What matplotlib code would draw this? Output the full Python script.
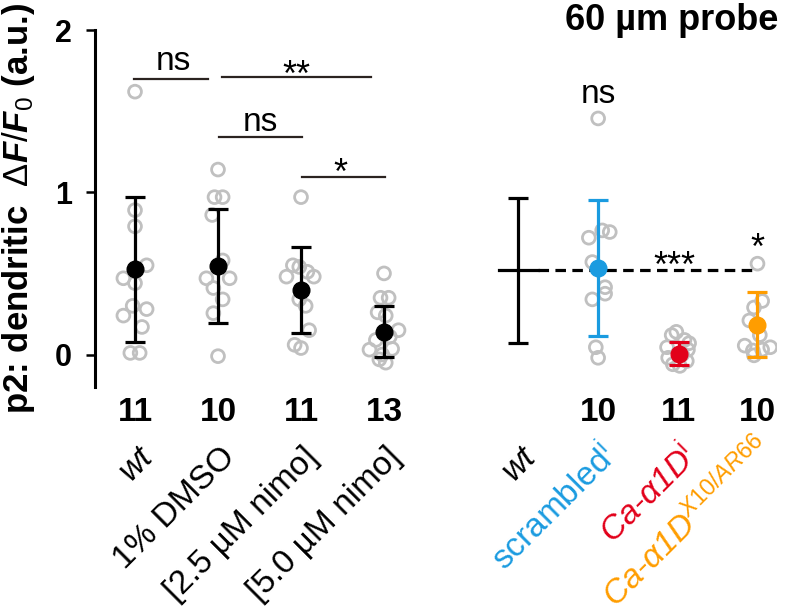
import numpy as np
import matplotlib
matplotlib.use('Agg')
from matplotlib import pyplot as plt

plt.rcParams['font.family'] = ['Liberation Sans', 'DejaVu Sans']
plt.rcParams['mathtext.fontset'] = 'custom'
plt.rcParams['mathtext.rm'] = 'Liberation Sans'
plt.rcParams['mathtext.it'] = 'Liberation Sans:italic'
plt.rcParams['mathtext.bf'] = 'Liberation Sans:bold'
plt.rcParams['mathtext.bfit'] = 'Liberation Sans:italic:bold'

# ---- left block: nimodipine treatment
left_labels = ['wt', '1% DMSO', '[2.5 µM nimo]', '[5.0 µM nimo]']
left_n = [11, 10, 11, 13]
left_mean = [0.525, 0.545, 0.395, 0.14]
left_sd = [0.447, 0.35, 0.265, 0.158]

wt_pts = [1.62, 0.89, 0.79, 0.55, 0.47, 0.44, 0.30, 0.28, 0.24, 0.17, 0.01, 0.01]
dmso_pts = [1.14, 0.97, 0.97, 0.86, 0.58, 0.47, 0.47, 0.41, 0.34, 0.255, -0.01]
nimo25_pts = [0.97, 0.55, 0.54, 0.51, 0.48, 0.48, 0.34, 0.30, 0.15, 0.06, 0.04]
nimo50_pts = [0.50, 0.35, 0.35, 0.26, 0.24, 0.15, 0.11, 0.09, 0.03, 0.035, 0.0, -0.03, -0.05]

# ---- right block: RNAi / mutant
right_labels = ['wt', 'scrambled$^{\\mathrm{i}}$', 'Ca-α1D$^{\\mathrm{i}}$', 'Ca-α1D$^{\\mathit{X10/AR66}}$']
right_n = [None, 10, 11, 10]
right_mean = [0.52, 0.535, 0.005, 0.183]
right_sd = [0.447, 0.42, 0.07, 0.20]

scr_pts = [1.455, 0.765, 0.755, 0.72, 0.57, 0.415, 0.375, 0.34, 0.045, -0.02]
rnai_pts = [0.14, 0.12, 0.09, 0.07, 0.045, 0.03, 0.0, -0.02, -0.04, -0.06, -0.07]
mut_pts = [0.56, 0.33, 0.29, 0.21, 0.12, 0.055, 0.045, 0.03, 0.025, -0.005]

# horizontal jitter of the grey circles (in circle widths)
wt_jit = [0, 0, 0, 1, -1, 0, -0.2, 1, -1, 0.6, -0.4, 0.4]
dmso_jit = [0, -0.3, 0.4, -0.5, 0.4, -1, 1, -0.4, 0.4, -0.4, 0]
nimo25_jit = [0, -0.7, -0.15, 0.55, -1.25, 1.1, -0.15, 0.4, 0.7, -0.55, 0]
nimo50_jit = [0, -0.3, 0.4, -0.55, 0.15, 1.25, 0.5, -0.7, -1.25, 0.7, -0.15, -0.4, 0.15]
scr_jit = [0, 0.35, 1.0, -0.8, -0.5, 0.6, 0.6, -0.5, -0.2, 0]
rnai_jit = [-0.2, -0.6, 0.5, 0.9, -1.0, 0.8, 0.3, -0.9, 0.7, -0.5, 0.1]
mut_jit = [0, 0.4, -0.3, -0.7, 0.2, -1.1, 1.1, 0.4, -0.4, -0.3]

left_x = [0, 1, 2, 3]
right_x = [4.62, 5.58, 6.55, 7.5]
right_colors = ['black', '#1a9be0', '#e2001a', '#ff9d00']
grey = '#c0c0c0'
jit_unit = 0.14

fig = plt.figure(figsize=(7.85, 6.14), dpi=100)
ax = fig.add_axes([95 / 785, 227 / 614, 682 / 785, 357 / 614])
ax.set_xlim(-0.482, 7.735)
ax.set_ylim(-0.2, 2)

# grey individual points
groups = [(left_x[0], wt_pts, wt_jit), (left_x[1], dmso_pts, dmso_jit),
          (left_x[2], nimo25_pts, nimo25_jit), (left_x[3], nimo50_pts, nimo50_jit),
          (right_x[1], scr_pts, scr_jit), (right_x[2], rnai_pts, rnai_jit),
          (right_x[3], mut_pts, mut_jit)]
for x0, pts, jit in groups:
    xs = x0 + np.array(jit) * jit_unit
    ax.scatter(xs, pts, s=85, facecolors='none', edgecolors=grey, linewidths=2.0, zorder=1)

# means + sd, left
ax.errorbar(left_x, left_mean, yerr=left_sd, fmt='o', color='black', ms=12,
            elinewidth=2.3, capsize=7, capthick=2.3, zorder=3)

# right: wt reference as a cross + dashed line
ax.errorbar(right_x[0], right_mean[0], yerr=right_sd[0], fmt='none', ecolor='black',
            elinewidth=2.3, capsize=7, capthick=2.3, zorder=3)
ax.plot([right_x[0] - 0.24, right_x[0] + 0.24], [right_mean[0]] * 2, color='black', lw=2.3, zorder=3)
ax.plot([right_x[0] + 0.24, right_x[3]], [right_mean[0]] * 2, color='black', lw=2.3,
        linestyle=(0, (3.3, 2.0)), zorder=2)
for i in range(1, 4):
    ax.errorbar(right_x[i], right_mean[i], yerr=right_sd[i], fmt='o', color=right_colors[i],
                ms=12, elinewidth=2.3, capsize=7, capthick=2.3, zorder=3)

# significance bars
sig_col = '#2b2320'
ax.plot([-0.01, 0.88], [1.695, 1.695], color=sig_col, lw=1.6)
ax.plot([1.05, 2.84], [1.71, 1.71], color=sig_col, lw=1.6)
ax.plot([1.01, 2.01], [1.34, 1.34], color=sig_col, lw=1.6)
ax.plot([2.01, 3.01], [1.095, 1.095], color=sig_col, lw=1.6)
ax.text(0.46, 1.753, 'ns', fontsize=24, ha='center', va='baseline')
ax.text(1.94, 1.655, '**', fontsize=26, ha='center', va='baseline')
ax.text(1.51, 1.377, 'ns', fontsize=24, ha='center', va='baseline')
ax.text(2.48, 1.05, '*', fontsize=26, ha='center', va='baseline')
ax.text(right_x[1], 1.55, 'ns', fontsize=24, ha='center', va='baseline')
ax.text(6.5, 0.48, '***', fontsize=26, ha='center', va='baseline')
ax.text(right_x[3], 0.59, '*', fontsize=26, ha='center', va='baseline')

ax.text(6.47, 2.0, '60 µm probe', fontsize=26, fontweight='bold', ha='center', va='baseline')

# n counts
for x, n in zip(left_x + right_x, left_n + right_n):
    if n is not None:
        ax.text(x, -0.407, str(n), fontsize=24, fontweight='bold', ha='center', va='baseline')

# rotated group labels
for x, lab in zip(left_x, left_labels):
    st = 'italic' if lab == 'wt' else 'normal'
    ax.text(x + 0.15, -0.605, lab, fontsize=24, style=st, rotation=45, rotation_mode='anchor',
            ha='right', va='center')
right_styles = ['italic', 'normal', 'italic', 'italic']
right_dx = [0.15, 0.15, 0.15, 0.1]
right_y = [-0.605, -0.595, -0.595, -0.545]
for x, lab, c, st, dx, y in zip(right_x, right_labels, right_colors, right_styles, right_dx, right_y):
    ax.text(x + dx, y, lab, fontsize=24, style=st, color=c, rotation=45,
            rotation_mode='anchor', ha='right', va='center')

# axes styling
for sp in ['top', 'right', 'bottom']:
    ax.spines[sp].set_visible(False)
ax.spines['left'].set_linewidth(2.2)
ax.set_xticks([])
ax.set_yticks([0, 1, 2])
ax.set_yticklabels(['0', '1', '2'], fontsize=22, fontweight='bold')
ax.tick_params(axis='y', length=6.5, width=1.8, pad=10)
ax.set_ylabel('p2: dendritic  $\\Delta\\mathbfit{F}/\\mathbfit{F}_{0}$ (a.u.)',
              fontsize=25, fontweight='bold')
ax.yaxis.set_label_coords(-0.085, 0.5)

fig.savefig('out.png', dpi=100)
